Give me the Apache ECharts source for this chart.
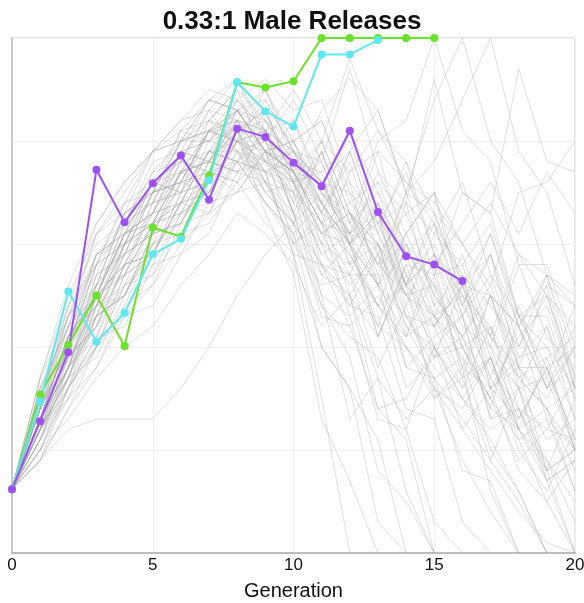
<!DOCTYPE html>
<html>
<head>
<meta charset="utf-8">
<script src="https://cdn.jsdelivr.net/npm/echarts@6/dist/echarts.min.js"></script>
<style>
  html, body { margin: 0; padding: 0; background: #fff; overflow: hidden; }
  #container { width: 584px; height: 603px; }
</style>
</head>
<body>
<div id="container"></div>
<script>
// every run starts at the same level in generation 0
var startValue = 0.62;

// highlighted runs, generation 0 onward
var purpleRun = [0.62, 1.28, 1.95, 3.72, 3.21, 3.59, 3.86, 3.43, 4.12, 4.04, 3.79, 3.56, 4.10, 3.31, 2.88, 2.80, 2.64];
var greenRun = [0.62, 1.54, 2.02, 2.50, 2.01, 3.16, 3.07, 3.66, 4.57, 4.52, 4.58, 5.0, 5.0, 5.0, 5.0, 5.0];
var cyanRun = [0.62, 1.47, 2.54, 2.05, 2.33, 2.90, 3.05, 3.62, 4.57, 4.29, 4.14, 4.84, 4.84, 4.98];

// background runs, generation 1 onward (a run stops when it hits 0)
var grayRuns = [
  [1.3,2.1,2.5,3.1,3.2,3.7,3.6,4.2,3.8,3.5,3.9,3.2,3.5,2.7,3.0,2.3,2.7,1.9,2.2,1.5],
  [1.1,1.9,2.2,3.0,3.3,3.9,3.8,4.4,4.1,3.7,3.3,3.8,2.9,3.3,2.5,2.1,2.6,1.8,1.5,2.0],
  [1.5,2.3,2.9,3.1,3.6,3.5,4.2,4.0,4.5,3.9,3.6,3.0,3.4,2.6,2.9,2.2,2.0,1.3,1.8,1.1],
  [1.0,1.6,2.1,2.8,2.9,3.4,3.3,3.9,3.4,3.0,3.3,2.5,2.1,2.8,2.0,1.6,1.9,1.0,0.6,1.2],
  [1.4,2.0,2.8,3.2,3.7,3.8,4.3,3.9,3.6,4.0,3.3,3.9,3.1,2.6,3.2,2.4,2.0,2.8,2.1,1.8],
  [0.9,1.4,2.0,2.4,3.0,3.1,3.7,3.6,4.2,3.8,3.4,3.0,3.3,2.3,1.9,2.6,1.7,1.2,0.7,0],
  [1.3,2.0,2.4,2.9,3.1,3.7,3.5,4.1,3.5,3.2,3.9,3.0,2.6,2.1,2.9,2.0,1.5,2.2,1.3,1.0],
  [1.7,2.5,3.1,3.5,3.9,4.1,4.4,4.6,4.0,4.4,3.8,4.7,3.7,3.1,3.5,2.4,3.1,2.2,2.6,1.6],
  [1.2,1.6,2.3,2.5,3.1,3.2,3.7,3.5,3.9,3.3,2.8,2.4,2.9,2.2,1.7,1.9,1.0,0.6,0],
  [1.4,2.0,2.6,3.0,3.5,3.6,4.1,3.9,3.7,3.8,3.0,3.7,3.9,2.9,3.2,2.3,2.9,2.0,2.7,1.9],
  [1.1,1.8,2.3,2.9,3.1,3.6,3.5,4.1,4.3,3.6,3.7,2.8,2.4,2.6,1.5,1.8,0.6,0],
  [1.6,2.4,3.0,3.2,3.7,4.0,4.2,4.5,3.8,3.9,3.6,3.5,2.7,3.5,2.7,2.8,2.0,1.6,2.2,1.3],
  [1.3,1.7,2.3,2.5,3.1,3.2,3.7,3.6,3.9,3.0,2.6,2.7,1.8,2.4,1.6,1.4,1.9,1.1,1.3,0.6],
  [1.2,2.0,2.5,3.1,3.3,3.8,3.7,4.3,3.9,4.0,4.2,3.4,3.1,2.5,2.6,1.8,2.5,1.6,1.7,1.0],
  [0.9,1.2,1.3,1.3,1.3,1.6,2.0,2.5,2.9,3.2,3.5,3.3,3.0,2.6,2.9,2.5,2.1,1.7,1.4,1.0],
  [1.4,2.1,2.9,3.0,3.6,3.5,4.1,4.2,4.5,3.8,3.6,3.0,3.7,3.4,4.6,3.5,3.3,2.3,2.5,1.6],
  [1.3,2.1,2.6,3.3,3.5,4.0,4.0,4.1,3.3,2.7,1.3,0.7,0],
  [1.2,1.7,2.4,2.7,3.2,3.4,3.9,4.0,4.1,3.4,3.1,2.6,2.9,1.8,2.1,2.3,1.3,1.6,0.7,0.9],
  [1.5,2.2,2.5,3.1,3.3,3.9,4.0,4.3,3.9,3.7,3.2,3.9,3.1,3.8,2.9,2.6,2.1,2.9,2.7,2.4],
  [1.0,1.6,2.0,2.6,2.9,3.5,3.6,4.0,3.8,3.6,3.1,3.3,2.8,3.0,2.3,2.0,1.5,1.1,0.5,0],
  [1.4,2.1,2.5,3.1,3.2,3.7,3.8,4.3,4.1,4.2,3.5,3.2,2.8,3.5,3.8,4.4,5.0,3.9,3.5,2.6],
  [1.3,1.8,2.5,2.8,3.3,3.4,3.9,3.9,4.0,3.3,3.9,3.2,4.0,4.2,5.0,4.1,3.8,2.8,2.8,2.0],
  [1.2,1.9,2.4,3.0,3.2,3.7,3.9,4.3,3.9,4.0,3.5,3.1,2.6,2.9,2.2,2.6,1.8,1.4,0.9,0.5],
  [1.7,2.6,3.2,3.6,3.9,4.2,4.3,4.6,4.1,4.5,4.0,3.7,4.1,3.6,3.2,2.7,2.4,2.0,2.5,1.7],
  [0.9,1.4,1.8,2.4,2.6,3.2,3.3,3.8,3.7,3.9,3.4,3.0,2.6,3.1,2.5,2.1,1.6,1.3,1.8,1.0],
  [1.3,2.1,2.5,3.2,3.4,3.9,3.8,4.2,3.6,3.5,2.5,2.3,1.3,1.2,0.3,0],
  [1.4,2.0,2.9,3.1,3.6,3.8,4.3,4.2,4.1,3.5,3.2,2.7,3.4,2.6,2.3,2.9,2.1,1.8,1.4,1.6],
  [1.2,1.8,2.1,2.7,2.9,3.4,3.5,3.8,3.4,3.1,3.4,2.9,2.4,2.0,1.7,1.3,0.9,0.5,0],
  [1.5,2.3,2.7,3.3,3.5,4.0,4.1,4.3,3.9,3.7,4.0,4.8,4.1,3.8,3.3,3.0,3.4,2.9,2.5,2.2],
  [1.3,1.8,2.6,2.7,3.2,3.4,3.9,3.8,4.3,3.7,3.4,3.0,3.3,2.6,2.2,1.6,2.2,1.4,1.2,1.7],
  [1.1,1.7,1.9,2.5,2.7,3.3,3.5,4.0,3.9,3.7,2.8,2.5,1.4,1.1,0],
  [1.4,2.4,2.8,3.4,3.6,4.1,4.2,4.5,4.2,4.0,3.4,4.1,3.5,3.0,2.6,2.3,1.7,2.4,1.6,1.8],
  [1.2,1.7,2.5,2.8,3.3,3.4,4.0,3.9,3.8,3.6,3.0,2.8,3.3,2.7,2.3,1.9,1.5,0.9,1.2,1.1],
  [1.3,2.1,2.4,3.0,3.2,3.8,3.7,4.1,3.6,3.1,2.0,1.6,0.3,0],
  [1.6,2.2,3.1,3.3,3.9,4.0,4.4,4.3,4.2,3.8,3.5,3.1,3.9,3.6,3.4,3.0,2.6,3.5,3.6,4.0],
  [1.1,1.8,2.2,2.8,2.9,3.5,3.6,4.1,3.7,3.6,2.9,3.1,2.1,2.8,2.7,3.5,3.3,4.7,3.8,3.7],
  [1.4,2.0,2.8,3.0,3.5,3.7,4.1,4.0,3.8,3.2,2.8,2.2,2.5,2.0,1.6,1.2,0.8,0.4,0.1,0],
  [1.2,2.0,2.3,2.9,3.1,3.7,3.8,4.1,4.0,3.6,3.1,3.3,2.6,2.3,1.8,1.5,1.9,1.2,0.9,0.3],
  [1.3,1.8,2.7,2.9,3.5,3.6,4.1,4.2,4.0,3.6,3.8,3.0,3.2,2.5,2.3,1.7,1.9,1.2,1.9,2.1],
  [0.9,1.6,2.0,2.7,2.9,3.4,3.5,3.9,3.5,3.2,2.7,2.5,3.0,2.2,2.0,1.5,1.1,0.6,0],
  [1.7,2.3,3.1,3.4,3.9,4.0,4.4,4.3,4.5,4.0,4.2,3.5,3.2,2.6,3.3,2.5,2.2,1.7,1.4,0.8],
  [1.3,2.1,2.4,3.1,3.3,3.7,3.8,4.2,3.9,3.7,3.2,2.9,2.4,2.1,2.7,1.8,1.6,2.1,2.4,1.6],
  [1.2,1.7,2.4,2.6,3.2,3.3,3.8,3.7,3.9,3.4,4.0,3.3,2.9,2.5,2.2,2.7,1.9,1.6,1.1,1.3],
  [1.4,2.3,2.6,3.3,3.4,4.0,4.1,4.4,4.1,3.9,3.3,3.0,2.4,3.1,3.5,3.0,2.5,2.2,1.6,2.2],
  [1.3,1.8,2.5,2.7,3.4,3.5,3.9,3.8,3.7,2.9,2.8,2.7,2.7,1.8,1.7,0.8,0.7,0],
  [1.0,1.5,1.8,2.3,2.4,2.9,3.1,3.7,3.8,4.2,3.6,3.3,2.8,2.5,2.0,2.3,1.3,1.4,0.8,1.5],
  [1.5,2.3,2.8,3.4,3.5,4.1,4.0,4.4,4.0,3.8,3.3,3.1,3.6,2.9,2.6,2.0,2.2,1.2,1.4,0.6],
  [1.2,1.7,2.3,2.5,3.0,3.2,3.7,3.8,4.1,3.6,3.4,2.8,3.0,2.1,2.3,2.5,1.6,1.8,0.8,1.0],
  [1.4,2.2,2.5,3.2,3.4,3.9,4.0,4.3,3.9,3.7,3.2,3.4,3.6,3.3,3.5,2.6,2.9,1.8,2.6,2.4],
  [1.3,1.8,2.5,2.8,3.4,3.5,3.9,3.8,4.0,3.3,3.0,2.4,2.3,1.4,1.3,0.3,0],
  [1.2,1.8,2.2,2.8,3.0,3.6,3.7,4.2,4.1,3.9,3.4,3.6,2.6,3.4,3.1,3.6,2.7,2.3,1.8,2.0],
  [1.6,2.2,2.9,3.1,3.6,3.8,4.2,4.1,4.3,3.6,4.0,3.3,3.0,2.5,2.8,1.7,2.5,2.2,2.7,1.7],
  [1.0,1.7,2.0,2.6,2.8,3.3,3.4,3.8,3.4,3.1,2.4,2.1,1.9,1.2,2.0,1.5,1.2,1.4,0.7,0.9],
  [1.4,1.9,2.7,2.9,3.5,3.6,4.1,4.0,4.4,3.9,3.6,3.1,3.3,2.4,3.1,2.8,3.2,2.3,2.0,1.6],
  [1.3,1.9,2.2,2.8,2.9,3.4,3.6,4.0,3.6,3.3,2.4,1.9,0.8,0.5,0],
  [1.2,1.7,2.5,2.7,3.2,3.3,3.8,3.7,3.6,3.0,3.2,2.3,2.6,1.6,1.9,2.0,1.4,1.2,0.8,1.0],
  [1.4,2.2,2.6,3.3,3.5,4.0,4.1,4.3,3.9,3.7,3.1,3.0,2.2,3.0,2.4,2.1,2.5,1.7,1.9,1.0],
  [1.2,1.6,2.1,2.2,2.8,2.9,3.4,3.5,3.9,3.8,3.7,4.0,3.2,3.4,2.4,2.7,1.6,1.9,2.0,1.3],
  [1.6,2.1,2.9,3.2,3.8,3.9,4.4,4.3,4.4,3.9,3.8,3.1,3.0,2.3,2.2,2.6,3.1,2.3,2.3,1.5],
  [1.3,2.1,2.4,3.0,3.1,3.6,3.7,4.0,3.7,3.5,2.9,2.7,2.2,2.0,1.5,1.7,0.9,1.6,0.8,0],
  [1.4,2.0,2.8,3.0,3.6,3.7,4.1,4.1,4.2,3.7,3.6,3.9,4.3,3.5,4.4,5.0,4.0,3.6,2.7,2.5],
  [1.3,1.8,2.6,2.9,3.5,3.6,4.1,4.0,4.1,3.7,4.3,4.6,4.3,3.5,3.3,2.6,2.5,1.8,1.8,1.1],
  [1.2,1.9,2.3,3.0,3.2,3.7,3.8,4.1,3.7,2.9,1.5,0],
  [1.1,1.5,2.3,2.5,3.1,3.2,3.8,3.7,4.1,3.3,2.5,1.3,1.7,0.6,0],
  [1.3,2.1,2.5,3.1,3.3,3.8,3.9,4.2,3.8,3.7,3.2,3.1,3.4,2.9,2.8,3.2,3.6,3.1,3.7,3.3],
  [1.0,1.3,1.7,2.0,2.2,2.6,2.9,3.3,3.1,2.8,2.2,2.5,1.7,1.3,1.6,0.9,0.4,0],
  [1.5,2.4,3.2,3.6,3.9,4.2,4.5,4.4,4.6,4.3,4.4,3.6,3.2,3.7,2.9,2.4,2.9,2.2,1.6,2.0],
  [1.2,1.5,2.0,2.3,2.6,3.0,3.3,3.5,3.6,3.2,2.3,2.2,1.4,1.5,2.0,1.2,1.6,0.8,0.5,0.9],
  [1.3,1.9,2.2,2.6,2.7,3.1,3.2,3.6,3.2,2.9,2.0,1.6,1.1,0],
  [1.1,1.6,2.4,2.5,3.0,3.3,3.5,4.0,3.5,3.6,2.7,3.0,2.1,2.7,1.9,2.1,1.4,2.3,1.7,2.4]
];

function toPoints(values) {
  var pts = [];
  for (var i = 0; i < values.length; i++) {
    pts.push([i, values[i]]);
  }
  return pts;
}

var dom = document.getElementById('container');
var myChart = echarts.init(dom, null, { renderer: 'canvas' });

var series = [];
for (var r of grayRuns) {
  series.push({
    type: 'line',
    data: toPoints([startValue].concat(r)),
    symbol: 'none',
    silent: true,
    lineStyle: { color: 'rgba(165,165,165,0.36)', width: 1 },
    z: 1
  });
}

function highlight(values, color) {
  return {
    type: 'line',
    data: toPoints(values),
    symbol: 'circle',
    symbolSize: 8,
    itemStyle: { color: color },
    lineStyle: { color: color, width: 2 },
    z: 5
  };
}
series.push(highlight(greenRun, '#6be22a'));
series.push(highlight(cyanRun, '#5ee8f2'));
series.push(highlight(purpleRun, '#9f50f2'));

var option = {
  animation: false,
  backgroundColor: '#fff',
  title: {
    text: '0.33:1 Male Releases',
    left: 'center',
    top: 4,
    textStyle: { fontFamily: 'Liberation Sans', fontSize: 26, fontWeight: 'bold', color: '#111' }
  },
  grid: {
    left: 12, right: 9, top: 38, bottom: 50,
    outerBoundsMode: 'none',
    containLabel: false,
    show: true,
    borderColor: '#cccccc',
    borderWidth: 1
  },
  xAxis: {
    type: 'value',
    min: 0, max: 20, interval: 5,
    name: 'Generation',
    nameLocation: 'middle',
    nameGap: 28,
    nameTextStyle: { fontFamily: 'Liberation Sans', fontSize: 20, color: '#111' },
    axisLine: { show: true, lineStyle: { color: '#bdbdbd', width: 2 } },
    axisTick: { show: false },
    axisLabel: { fontFamily: 'Liberation Sans', fontSize: 17, color: '#111', margin: 4 },
    splitLine: { show: true, lineStyle: { color: '#f0f0f0', width: 1 } }
  },
  yAxis: {
    type: 'value',
    min: 0, max: 5, interval: 1,
    axisLine: { show: true, lineStyle: { color: '#c8c8c8', width: 2 } },
    axisTick: { show: false },
    axisLabel: { show: false },
    splitLine: { show: true, lineStyle: { color: '#f0f0f0', width: 1 } }
  },
  series: series
};
myChart.setOption(option, true);
</script>
</body>
</html>
